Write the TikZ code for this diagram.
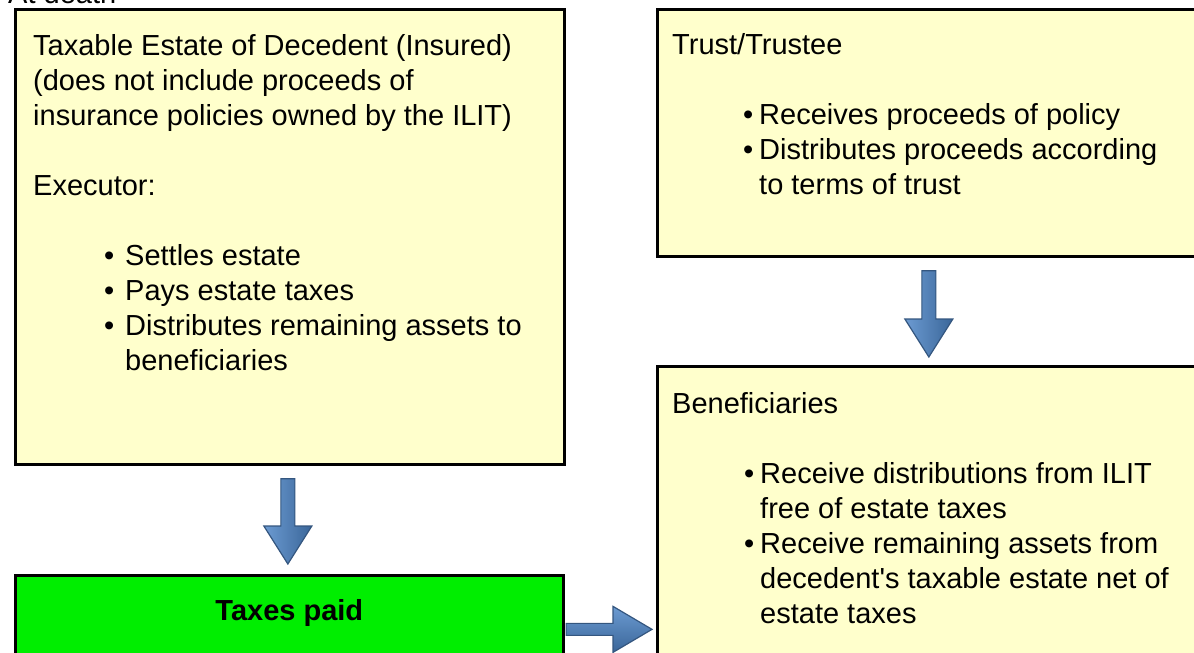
\documentclass[tikz,border=0pt]{standalone}
\usepackage{fontspec}
\setmainfont{Liberation Sans}
\usetikzlibrary{positioning,calc}

\definecolor{notefill}{HTML}{FFFFCC}
\definecolor{paidgreen}{HTML}{00EE00}
\definecolor{arrowlight}{HTML}{6C9BD2}
\definecolor{arrowdark}{HTML}{3A6699}
\definecolor{arrowedge}{HTML}{34567F}

\newcommand{\bul}[1]{\llap{\textbullet\hspace{#1}}}

\tikzset{
  notebox/.style={draw=black, line width=2.7pt, fill=notefill, anchor=north west, inner sep=0pt},
  paidbox/.style={notebox, fill=paidgreen},
  boxtext/.style={anchor=base west, align=left, inner sep=0pt},
  bigarrow/.style={draw=arrowedge, line width=1.2pt, line join=miter},
}

% block arrow pointing down, from top point to tip
\newcommand{\blockdown}[2]{%
  \shade[bigarrow, left color=arrowlight, right color=arrowdark]
    ($(#1)+(-7,0)$) -- ($(#1)+(7,0)$) -- ($(#2)+(7,-38)$) -- ($(#2)+(24,-38)$)
    -- (#2) -- ($(#2)+(-24,-38)$) -- ($(#2)+(-7,-38)$) -- cycle;
}
% block arrow pointing right, from start point to tip
\newcommand{\blockright}[2]{%
  \shade[bigarrow, top color=arrowlight, bottom color=arrowdark]
    ($(#1)+(0,-6)$) -- ($(#2)+(-39,-6)$) -- ($(#2)+(-39,-23)$) -- (#2)
    -- ($(#2)+(-39,23)$) -- ($(#2)+(-39,6)$) -- ($(#1)+(0,6)$) -- cycle;
}

\begin{document}
\begin{tikzpicture}[x=1pt, y=-1pt, font=\fontsize{29}{35}\selectfont]
  \useasboundingbox (0,0) rectangle (1194,653);
  \clip (0,0) rectangle (1194,653);

  \node[boxtext] (title) at (8,4) {At death};

  % the four boxes
  \node[notebox, minimum width=549pt, minimum height=455pt] (estate) at (14,8) {};
  \node[notebox, minimum width=543pt, minimum height=247pt] (trust) at (656,8) {};
  \node[notebox, minimum width=543pt, minimum height=526pt] (benef) at (656,365) {};
  \node[paidbox, minimum width=548pt, minimum height=108pt] (taxes) at (14,574) {};

  % estate box (base = last line)
  \node[boxtext] (estatehead) at ($(estate.north west)+(19,187)$)
    {Taxable Estate of Decedent (Insured)\\
     (does not include proceeds of\\
     insurance policies owned by the ILIT)\\[35pt]
     Executor:};
  \node[boxtext] (estatelist) at ($(estate.north west)+(111,362)$)
    {\bul{10.9pt}Settles estate\\
     \bul{10.9pt}Pays estate taxes\\
     \bul{10.9pt}Distributes remaining assets to\\
     beneficiaries};

  % trust box
  \node[boxtext] (trusthead) at ($(trust.north west)+(16,46)$) {Trust/Trustee};
  \node[boxtext] (trustlist) at ($(trust.north west)+(103,186)$)
    {\bul{5.9pt}Receives proceeds of policy\\
     \bul{5.9pt}Distributes proceeds according\\
     to terms of trust};

  % beneficiaries box
  \node[boxtext] (benefhead) at ($(benef.north west)+(16,48)$) {Beneficiaries};
  \node[boxtext] (beneflist) at ($(benef.north west)+(104,258)$)
    {\bul{5.9pt}Receive distributions from ILIT\\
     free of estate taxes\\
     \bul{5.9pt}Receive remaining assets from\\
     decedent\textquotesingle s taxable estate net of\\
     estate taxes};

  % taxes box
  \node[anchor=base, inner sep=0pt] (taxestext) at ($(taxes.north)+(0,46)$) {\bfseries Taxes paid};

  % arrows
  \coordinate (estatedrop) at ($(estate.south)+(-2,13)$);
  \coordinate (taxestop) at ($(estatedrop |- taxes.north)+(0,-10)$);
  \blockdown{estatedrop}{taxestop}

  \coordinate (trustdrop) at ($(trust.south)+(0,13)$);
  \coordinate (beneftop) at ($(trustdrop |- benef.north)+(0,-8)$);
  \blockdown{trustdrop}{beneftop}

  \coordinate (taxesout) at ($(taxes.east)+(1.4,0)$);
  \coordinate (benefin) at ($(taxes.east -| benef.west)+(-4,0)$);
  \blockright{taxesout}{benefin}
\end{tikzpicture}
\end{document}
